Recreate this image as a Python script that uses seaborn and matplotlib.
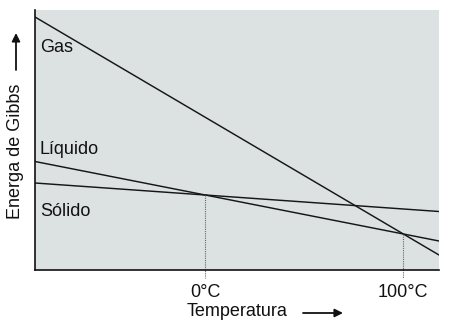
import matplotlib
matplotlib.use("Agg")
import matplotlib.pyplot as plt
from matplotlib import font_manager
import seaborn as sns
import pandas as pd

# Free-energy lines (arbitrary energy units) at the two ends of the temperature axis
temperature = [-86, 118]
gas = [253, 15]
liquid = [108.5, 29]
solid = [87, 58.5]

phase_names = ["Gas", "Líquido", "Sólido"]
label_y = [223, 120, 59]

# Phase transitions: temperature (°C) and energy where the lines cross
transition_t = [0, 100]
transition_g = [75, 36]
tick_labels = ["0°C", "100°C"]

df = pd.concat([
    pd.DataFrame({"T": temperature, "G": gas, "fase": "Gas"}),
    pd.DataFrame({"T": temperature, "G": liquid, "fase": "Líquido"}),
    pd.DataFrame({"T": temperature, "G": solid, "fase": "Sólido"}),
])

sns.set_theme(style="white")

# a narrow sans face if present, regular Liberation Sans otherwise
available = {f.name for f in font_manager.fontManager.ttflist}
if "Liberation Sans Narrow" in available:
    family, fs = "Liberation Sans Narrow", 15.5
else:
    family, fs = "Liberation Sans", 13
plt.rcParams["font.family"] = [family, "DejaVu Sans"]

fig = plt.figure(figsize=(4.5, 3.29), dpi=100)
ax = fig.add_axes([35 / 450, 59 / 329, 404 / 450, 260 / 329])
ax.set_facecolor("#dce1e2")

sns.lineplot(data=df, x="T", y="G", units="fase", estimator=None,
             color="#161616", linewidth=1.05, ax=ax, legend=False)

ax.set_xlim(-86, 118)
ax.set_ylim(0, 260)

# dotted drop lines at the transition temperatures
for t, g in zip(transition_t, transition_g):
    ax.plot([t, t], [g, -8], color="#666666", linestyle=(0, (1, 1)),
            linewidth=0.8, clip_on=False)

for name, y in zip(phase_names, label_y):
    ax.text(-83.5, y, name, ha="left", va="center", fontsize=fs, color="#111111")

ax.set_xticks(transition_t)
ax.set_xticklabels(tick_labels, fontsize=fs, color="#111111")
ax.set_yticks([])
ax.tick_params(axis="x", length=0, pad=10)
ax.set_xlabel("")
ax.set_ylabel("")

for side in ["top", "right"]:
    ax.spines[side].set_visible(False)
for side in ["left", "bottom"]:
    ax.spines[side].set_color("#111111")
    ax.spines[side].set_linewidth(1.2)

# axis titles with arrows
fig.text(16 / 450, 1 - 151 / 329, "Energa de Gibbs", rotation=90,
         ha="center", va="center", fontsize=fs, color="#111111")
fig.text(237 / 450, 1 - 312 / 329, "Temperatura",
         ha="center", va="center", fontsize=fs, color="#111111")

arrow = dict(arrowstyle="-|>", color="#111111", lw=1.3, mutation_scale=12,
             shrinkA=0, shrinkB=0)
fig.add_artist(matplotlib.patches.FancyArrowPatch(
    (16 / 450, 1 - 70 / 329), (16 / 450, 1 - 33 / 329),
    transform=fig.transFigure, **arrow))
fig.add_artist(matplotlib.patches.FancyArrowPatch(
    (303 / 450, 1 - 313 / 329), (343 / 450, 1 - 313 / 329),
    transform=fig.transFigure, **arrow))

fig.savefig("out.png", dpi=100, facecolor="white")
